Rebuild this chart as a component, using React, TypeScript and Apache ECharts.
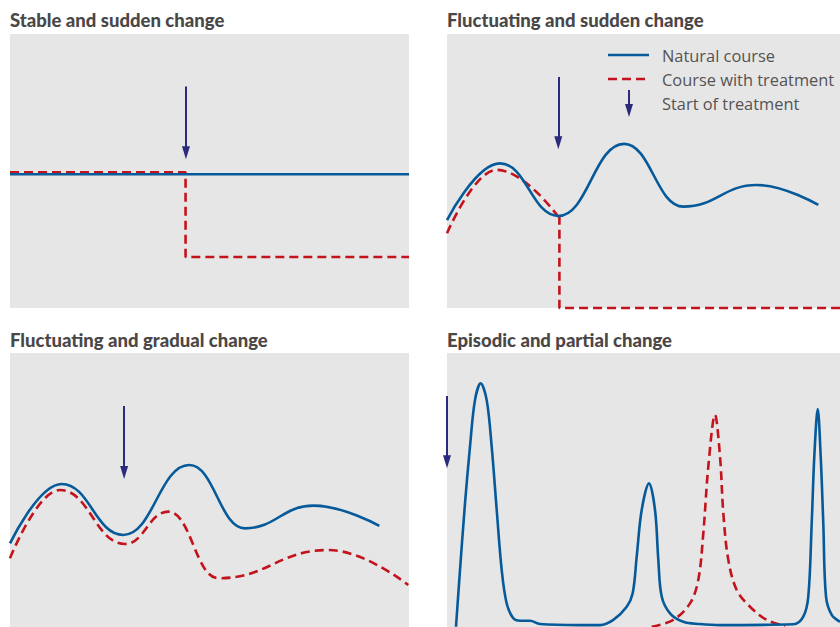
import React, { useEffect, useRef } from 'react';
import * as echarts from 'echarts';

// ---- Data (x: 0–100 along each panel, y: 0–100 height within each panel) ----
const titles = [
  'Stable and sudden change',
  'Fluctuating and sudden change',
  'Fluctuating and gradual change',
  'Episodic and partial change',
];
const legendLabels = ['Natural course', 'Course with treatment', 'Start of treatment'];

// Panel 1: stable and sudden change
const p1Natural = [[0, 48.8], [100, 48.8]];
const p1Treatment = [[0, 49.5], [44.0, 49.5], [44.0, 18.6], [100, 18.6]];
const p1Arrow = { x: 44.1, top: 80.8, head: 56.7 };

// Panel 2: fluctuating and sudden change (turning points)
const p2Natural = [
  [0, 32.1], [13.49, 52.8], [28.32, 33.6], [45.04, 59.9], [60.13, 37.0], [78.8, 44.9], [94.48, 37.6],
];
const p2TreatmentCurve = [[0, 27.3], [12.65, 50.4], [28.32, 33.3]];
const p2TreatmentStep = [[28.32, 33.3], [28.6, 33.3], [28.6, 0], [100, 0]];
const p2Arrow = { x: 28.32, top: 84.3, head: 60.3 };

// Panel 3: fluctuating and gradual change (turning points)
const p3Natural = [
  [0, 30.5], [12.96, 52.2], [28.4, 33.6], [44.94, 59.1], [58.9, 36.0], [76.02, 44.3], [92.56, 36.9],
];
const p3Treatment = [
  [0, 25.1], [12.53, 50.0], [28.82, 30.3], [39.67, 42.1], [52.21, 17.8], [79.77, 28.1], [99.82, 15.3],
];
const p3Arrow = { x: 28.6, top: 80.7, head: 56.4 };

// Panel 4: episodic and partial change
const p4Natural = [
  [2.29, 0.1], [3.31, 20.8], [4.58, 45.1], [5.85, 65.8], [7.12, 82.8], [8.58, 88.9],
  [10.1, 82.8], [11.37, 65.8], [12.65, 42.7], [13.92, 20.8], [15.19, 8.6], [16.87, 3.2],
  [18.58, 2.3], [21.12, 2.3], [23.66, 1.1], [33.84, 0.7], [38.93, 0.7], [42.32, 2.6],
  [45.73, 7.4], [47.25, 12.3], [48.27, 25.7], [49.54, 42.7], [51.4, 52.4], [52.93, 42.7],
  [53.77, 24.5], [54.63, 11.1], [56.74, 5.0], [60.13, 1.9], [64.38, 1.1], [69.47, 0.7],
  [88.12, 1.0], [90.66, 3.8], [91.93, 11.1], [92.8, 37.8], [93.46, 62.2], [94.33, 79.5],
  [95.09, 62.2], [95.75, 37.8], [96.44, 11.1], [97.89, 4.4], [100, 1.9],
];
const p4Treatment = [
  [52.09, 0.1], [57.58, 2.6], [61.83, 8.6], [63.94, 17.2], [65.22, 34.2], [66.49, 58.5],
  [68.19, 77.4], [69.47, 62.2], [70.31, 41.5], [71.58, 24.5], [73.72, 13.5], [77.1, 7.4],
  [81.35, 2.6], [86.01, 0.4],
];
const p4Arrow = { x: 0, top: 84.3, head: 60.3 };

// ---- Styles ----
const BLUE = '#075a9a';
const RED = '#c3141d';
const NAVY = '#2b2a7c';
const BG = '#e6e6e6';
const TITLE_COLOR = '#4a4747';
const TEXT_COLOR = '#555353';
const LINE_W = 2.6;
const DASH = [9, 5];

const grids = [
  { left: 10, top: 34, width: 399, height: 274 },
  { left: 447, top: 34, width: 393, height: 274 },
  { left: 10, top: 353, width: 399, height: 274 },
  { left: 447, top: 353, width: 393, height: 274 },
];
const titlePos = [
  { left: 10, top: 10 },
  { left: 447, top: 10 },
  { left: 10, top: 330 },
  { left: 447, top: 330 },
];

function arrowMark(a: { x: number; top: number; head: number }) {
  return {
    silent: true,
    animation: false,
    symbol: ['none', 'triangle'],
    label: { show: false },
    emphasis: { disabled: true },
    lineStyle: { color: NAVY, width: 2, type: 'solid', opacity: 1 },
    itemStyle: { color: NAVY },
    data: [[{ coord: [a.x, a.top] }, { coord: [a.x, a.head], symbolSize: [8, 13] }]],
  };
}

function lineSeries(
  name: string,
  data: number[][],
  idx: number,
  kind: 'natural' | 'treatment',
  smooth: number | boolean,
  extra: any = {}
) {
  return {
    type: 'line',
    name,
    data,
    xAxisIndex: idx,
    yAxisIndex: idx,
    smooth,
    symbol: 'none',
    showSymbol: false,
    clip: false,
    silent: true,
    lineStyle:
      kind === 'natural'
        ? { color: BLUE, width: LINE_W, type: 'solid' }
        : { color: RED, width: LINE_W, type: DASH },
    itemStyle: { color: kind === 'natural' ? BLUE : RED },
    z: kind === 'natural' ? 3 : 2,
    ...extra,
  };
}

const wave = { smoothMonotone: 'x' };

export default function App() {
  const ref = useRef<HTMLDivElement>(null);
  useEffect(() => {
    if (!ref.current) return;
    const chart = echarts.init(ref.current, null, { renderer: 'svg' });
    const lx1 = 608;
    const lx2 = 649;
    const option: any = {
      animation: false,
      backgroundColor: '#ffffff',
      title: titles.map((t, i) => ({
        text: t,
        left: titlePos[i].left,
        top: titlePos[i].top,
        padding: 0,
        textStyle: {
          fontFamily: 'Lato',
          fontWeight: 900,
          fontSize: 18.5,
          color: TITLE_COLOR,
          lineHeight: 19,
        },
      })),
      grid: grids.map((g) => ({
        ...g,
        show: true,
        backgroundColor: BG,
        borderWidth: 0,
        containLabel: false,
      })),
      xAxis: grids.map((_, i) => ({
        type: 'value',
        gridIndex: i,
        min: 0,
        max: 100,
        show: false,
      })),
      yAxis: grids.map((_, i) => ({
        type: 'value',
        gridIndex: i,
        min: 0,
        max: 100,
        show: false,
      })),
      series: [
        lineSeries(legendLabels[1], p1Treatment, 0, 'treatment', false),
        lineSeries(legendLabels[0], p1Natural, 0, 'natural', false, { markLine: arrowMark(p1Arrow) }),

        lineSeries(legendLabels[1], p2TreatmentCurve, 1, 'treatment', 0.45, wave),
        lineSeries(legendLabels[1], p2TreatmentStep, 1, 'treatment', false),
        lineSeries(legendLabels[0], p2Natural, 1, 'natural', 0.45, { ...wave, markLine: arrowMark(p2Arrow) }),

        lineSeries(legendLabels[1], p3Treatment, 2, 'treatment', 0.45, wave),
        lineSeries(legendLabels[0], p3Natural, 2, 'natural', 0.45, { ...wave, markLine: arrowMark(p3Arrow) }),

        lineSeries(legendLabels[1], p4Treatment, 3, 'treatment', 0.35),
        lineSeries(legendLabels[0], p4Natural, 3, 'natural', 0.35, { markLine: arrowMark(p4Arrow) }),
      ],
      graphic: [
        {
          type: 'line',
          shape: { x1: lx1, y1: 55, x2: lx2, y2: 55 },
          style: { stroke: BLUE, lineWidth: LINE_W },
          silent: true,
          z: 10,
        },
        {
          type: 'line',
          shape: { x1: lx1, y1: 79, x2: lx2, y2: 79 },
          style: { stroke: RED, lineWidth: LINE_W, lineDash: DASH },
          silent: true,
          z: 10,
        },
        {
          type: 'line',
          shape: { x1: 629, y1: 90, x2: 629, y2: 107 },
          style: { stroke: NAVY, lineWidth: 2 },
          silent: true,
          z: 10,
        },
        {
          type: 'polygon',
          shape: { points: [[625, 104], [633, 104], [629, 117]] },
          style: { fill: NAVY },
          silent: true,
          z: 10,
        },
        ...legendLabels.map((t, i) => ({
          type: 'text',
          x: 662,
          y: 55 + i * 24,
          silent: true,
          z: 10,
          style: {
            text: t,
            fill: TEXT_COLOR,
            font: '16.4px "Open Sans"',
            textVerticalAlign: 'middle',
            verticalAlign: 'middle',
          },
        })),
      ],
    };
    chart.setOption(option);
    return () => chart.dispose();
  }, []);
  return (
    <div
      ref={ref}
      style={{ position: 'fixed', left: 0, top: 0, width: 840, height: 627, background: '#fff' }}
    />
  );
}
